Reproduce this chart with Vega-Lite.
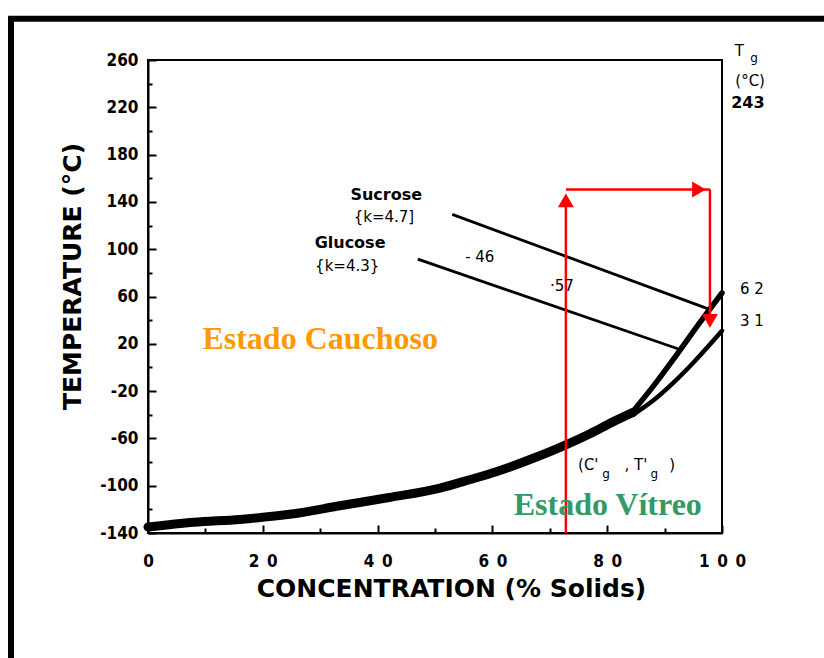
{
  "$schema": "https://vega.github.io/schema/vega-lite/v6.json",
  "width": 574,
  "height": 473,
  "autosize": {"type": "none"},
  "padding": {"left": 148, "top": 60, "right": 102, "bottom": 125},
  "background": "white",
  "config": {
    "view": {"stroke": "black", "strokeWidth": 2},
    "axis": {
      "domainColor": "black",
      "domainWidth": 2,
      "tickColor": "black",
      "tickWidth": 2,
      "labelColor": "black",
      "titleColor": "black",
      "labelFont": "Liberation Sans Narrow, DejaVu Sans Condensed, Liberation Sans",
      "labelFontWeight": "bold",
      "labelFontSize": 17,
      "titleFont": "DejaVu Sans",
      "titleFontWeight": "bold",
      "titleFontSize": 25,
      "grid": false
    }
  },
  "datasets": {
    "frame": [{"x": -23.87, "x2": 150, "y": 294.9, "y2": -400}],
    "curves": [
      {"series": "main", "x": 0, "y": -135},
      {"series": "main", "x": 8, "y": -131},
      {"series": "main", "x": 16, "y": -128.5},
      {"series": "main", "x": 25, "y": -124},
      {"series": "main", "x": 33.4, "y": -117},
      {"series": "main", "x": 42, "y": -110},
      {"series": "main", "x": 50.9, "y": -102},
      {"series": "main", "x": 56, "y": -95},
      {"series": "main", "x": 60.8, "y": -88},
      {"series": "main", "x": 67, "y": -77},
      {"series": "main", "x": 73, "y": -65},
      {"series": "main", "x": 77, "y": -56},
      {"series": "main", "x": 81, "y": -46},
      {"series": "main", "x": 84.5, "y": -38},
      {"series": "sucrose", "x": 84, "y": -40},
      {"series": "sucrose", "x": 88, "y": -16},
      {"series": "sucrose", "x": 92, "y": 10},
      {"series": "sucrose", "x": 96, "y": 37},
      {"series": "sucrose", "x": 100, "y": 63},
      {"series": "glucose", "x": 84.5, "y": -40},
      {"series": "glucose", "x": 88, "y": -28},
      {"series": "glucose", "x": 91.5, "y": -13},
      {"series": "glucose", "x": 95, "y": 4},
      {"series": "glucose", "x": 100, "y": 31}
    ],
    "ties": [
      {"series": "sucrose", "x": 53, "y": 129.5},
      {"series": "sucrose", "x": 97.6, "y": 49.5},
      {"series": "glucose", "x": 47, "y": 91.6},
      {"series": "glucose", "x": 92.3, "y": 15.8}
    ],
    "arrows": [
      {"seg": "up", "x": 72.8, "y": -140},
      {"seg": "up", "x": 72.8, "y": 141},
      {"seg": "across", "x": 72.8, "y": 150.5},
      {"seg": "across", "x": 97.9, "y": 150.5},
      {"seg": "down", "x": 97.9, "y": 150.5},
      {"seg": "down", "x": 97.9, "y": 40}
    ],
    "heads": [
      {"dir": "up", "x": 72.8, "y": 141.3},
      {"dir": "right", "x": 96.0, "y": 150.5},
      {"dir": "down", "x": 97.9, "y": 39.4}
    ],
    "boldText": [
      {"label": "Sucrose", "x": 41.5, "y": 145.5},
      {"label": "Glucose", "x": 35.2, "y": 105},
      {"label": "243", "x": 104.5, "y": 223.8}
    ],
    "plainText": [
      {"label": "{k=4.7]", "x": 41.1, "y": 127},
      {"label": "{k=4.3}", "x": 34.7, "y": 85.7},
      {"label": "- 46", "x": 57.8, "y": 93.3},
      {"label": "·57", "x": 72.1, "y": 68.8},
      {"label": "6 2", "x": 105.2, "y": 66.3},
      {"label": "3 1", "x": 105.2, "y": 39.4},
      {"label": "T", "x": 103, "y": 267.2},
      {"label": "(°C)", "x": 104.9, "y": 242.3},
      {"label": "(C'", "x": 76.7, "y": -82.7},
      {"label": ", T'", "x": 85.0, "y": -82.7},
      {"label": ")", "x": 91.3, "y": -82.7}
    ],
    "subText": [
      {"label": "g", "x": 105.6, "y": 261.3},
      {"label": "g", "x": 79.8, "y": -90.3},
      {"label": "g", "x": 88.2, "y": -90.3}
    ],
    "rubbery": [{"label": "Estado Cauchoso", "x": 30, "y": 24.2}],
    "glassy": [{"label": "Estado Vítreo", "x": 80.1, "y": -116.4}]
  },
  "encoding": {
    "x": {
      "field": "x",
      "type": "quantitative",
      "scale": {"domain": [0, 100], "nice": false, "zero": false},
      "axis": {
        "title": "CONCENTRATION (% Solids)",
        "values": [0, 10, 20, 30, 40, 50, 60, 70, 80, 90, 100],
        "labelExpr": "datum.value % 20 != 0 ? '' : datum.value == 0 ? '0' : datum.value == 100 ? '1\u20020\u20020' : substring(datum.label, 0, 1) + '\u2002' + substring(datum.label, 1)",
        "tickSize": {"condition": {"test": "datum.value % 20 == 0", "value": -8}, "value": -5},
        "labelPadding": 41,
        "labelBaseline": "alphabetic",
        "labelFlush": false,
        "labelOverlap": false,
        "titleX": 303,
        "titleY": 63,
        "titleBaseline": "alphabetic"
      }
    },
    "y": {
      "field": "y",
      "type": "quantitative",
      "scale": {"domain": [-140, 260], "nice": false, "zero": false},
      "axis": {
        "title": "TEMPERATURE (°C)",
        "values": [-140, -120, -100, -80, -60, -40, -20, 0, 20, 40, 60, 80, 100, 120, 140, 160, 180, 200, 220, 240, 260],
        "labelExpr": "(datum.value + 140) % 40 == 0 ? replace(datum.label, '\u2212', '-') : ''",
        "tickSize": {"condition": {"test": "(datum.value + 140) % 40 == 0", "value": -8}, "value": -4},
        "labelPadding": 18,
        "labelFlush": false,
        "labelOverlap": false,
        "titleX": -68,
        "titleY": 216,
        "titleBaseline": "alphabetic"
      }
    }
  },
  "layer": [
    {
      "data": {"name": "frame"},
      "mark": {"type": "rect", "fillOpacity": 0, "stroke": "black", "strokeWidth": 6, "clip": false},
      "encoding": {"x2": {"field": "x2"}, "y2": {"field": "y2"}}
    },
    {
      "data": {"name": "curves"},
      "transform": [{"filter": "datum.series == 'main'"}],
      "mark": {"type": "line", "color": "black", "strokeWidth": 9, "interpolate": "monotone", "strokeCap": "round"},
      "encoding": {}
    },
    {
      "data": {"name": "curves"},
      "transform": [{"filter": "datum.series == 'sucrose'"}],
      "mark": {"type": "line", "color": "black", "strokeWidth": 5.5, "interpolate": "monotone", "strokeCap": "round"},
      "encoding": {}
    },
    {
      "data": {"name": "curves"},
      "transform": [{"filter": "datum.series == 'glucose'"}],
      "mark": {"type": "line", "color": "black", "strokeWidth": 4.5, "interpolate": "monotone", "strokeCap": "round"},
      "encoding": {}
    },
    {
      "data": {"name": "ties"},
      "mark": {"type": "line", "color": "black", "strokeWidth": 2.8},
      "encoding": {"detail": {"field": "series"}}
    },
    {
      "data": {"name": "arrows"},
      "mark": {"type": "line", "color": "#FF0000", "strokeWidth": 2.5},
      "encoding": {"detail": {"field": "seg"}}
    },
    {
      "data": {"name": "heads"},
      "mark": {"type": "point", "filled": true, "color": "#FF0000", "size": 256, "opacity": 1},
      "encoding": {
        "shape": {
          "field": "dir",
          "scale": {"domain": ["up", "right", "down"], "range": ["triangle-up", "triangle-right", "triangle-down"]},
          "legend": null
        }
      }
    },
    {
      "data": {"name": "boldText"},
      "mark": {"type": "text", "font": "DejaVu Sans", "fontWeight": "bold", "fontSize": 16, "color": "black", "baseline": "middle"},
      "encoding": {"text": {"field": "label"}}
    },
    {
      "data": {"name": "plainText"},
      "mark": {"type": "text", "font": "DejaVu Sans", "fontSize": 15, "color": "black", "baseline": "middle"},
      "encoding": {"text": {"field": "label"}}
    },
    {
      "data": {"name": "subText"},
      "mark": {"type": "text", "font": "DejaVu Sans", "fontSize": 12, "color": "black", "baseline": "middle"},
      "encoding": {"text": {"field": "label"}}
    },
    {
      "data": {"name": "rubbery"},
      "mark": {"type": "text", "font": "Liberation Serif", "fontWeight": "bold", "fontSize": 32, "color": "#FF9900", "baseline": "middle"},
      "encoding": {"text": {"field": "label"}}
    },
    {
      "data": {"name": "glassy"},
      "mark": {"type": "text", "font": "Liberation Serif", "fontWeight": "bold", "fontSize": 32, "color": "#339966", "baseline": "middle"},
      "encoding": {"text": {"field": "label"}}
    }
  ]
}
